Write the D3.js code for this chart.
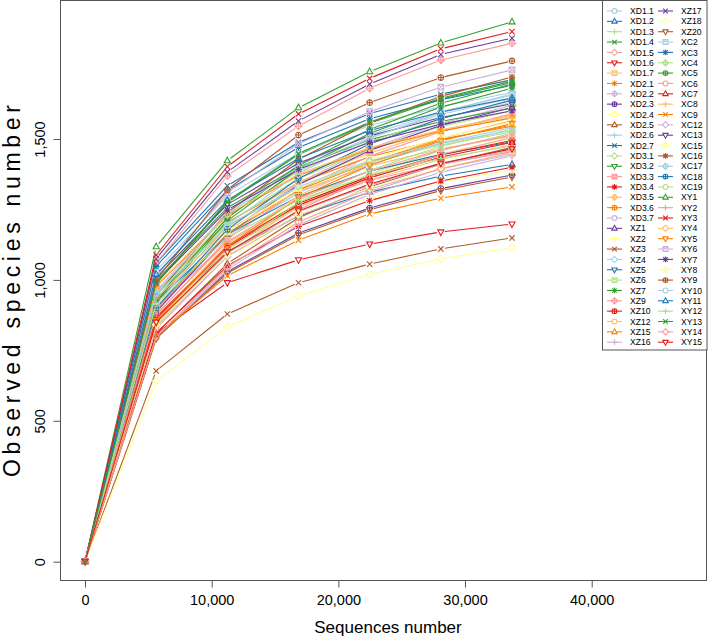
<!DOCTYPE html>
<html><head><meta charset="utf-8">
<script src="https://cdn.jsdelivr.net/npm/d3@7"></script>
<style>
body{margin:0;background:#fff}
svg{display:block}
text{font-family:"Liberation Sans", Arial, Helvetica, sans-serif;fill:#000}
</style>
</head><body>
<svg id="c" width="709" height="636"></svg>
<script>
// ---------------- data ----------------
const depths = [1, 5618, 11236, 16854, 22472, 28090, 33708];
const originSpecies = 1;

const xdNames = ["XD1.1","XD1.2","XD1.3","XD1.4","XD1.5","XD1.6","XD1.7",
                 "XD2.1","XD2.2","XD2.3","XD2.4","XD2.5","XD2.6","XD2.7",
                 "XD3.1","XD3.2","XD3.3","XD3.4","XD3.5","XD3.6","XD3.7"];
const xdValues = [
  [893,1155,1309,1409,1486,1540],[874,1100,1227,1311,1368,1410],[836,1094,1262,1376,1459,1520],
  [986,1275,1445,1556,1641,1700],[902,1135,1266,1353,1411,1455],[810,990,1071,1127,1170,1198],
  [858,1110,1258,1354,1428,1480],[958,1205,1344,1437,1499,1545],[891,1166,1345,1466,1555,1620],
  [796,1029,1166,1255,1324,1372],[862,1084,1209,1293,1348,1390],[809,1058,1220,1330,1411,1470],
  [960,1241,1407,1514,1597,1655],[1060,1334,1488,1590,1659,1710],[928,1200,1360,1464,1544,1600],
  [998,1256,1401,1497,1562,1610],[875,1145,1320,1439,1526,1590],[812,1050,1190,1281,1351,1400],
  [919,1189,1347,1450,1530,1585],[977,1229,1370,1465,1528,1575],[847,1095,1241,1336,1409,1460]
];
const xzNames = ["XZ1","XZ2","XZ3","XZ4","XZ5","XZ6","XZ7","XZ9","XZ10","XZ12","XZ15","XZ16","XZ17","XZ18","XZ20"];
const xzValues = [
  [887,1161,1338,1459,1548,1612],[870,1125,1275,1373,1448,1500],[677,879,990,1056,1110,1149],
  [1032,1299,1449,1548,1615,1665],[924,1162,1296,1386,1445,1490],[945,1223,1386,1491,1573,1630],
  [924,1210,1394,1520,1613,1680],[1060,1369,1546,1680,1780,1840],[867,1121,1271,1368,1443,1495],
  [861,1127,1299,1416,1502,1565],[899,1163,1318,1418,1496,1550],[792,1037,1195,1303,1382,1440],
  [1075,1383,1564,1695,1800,1858],[641,833,943,1020,1075,1114],[792,1024,1160,1249,1317,1365]
];
const xcNames = ["XC2","XC3","XC4","XC5","XC6","XC7","XC8","XC9","XC12","XC13","XC15","XC16","XC17","XC18","XC19"];
const xcValues = [
  [913,1195,1378,1502,1594,1660],[1048,1318,1470,1572,1639,1690],[946,1190,1327,1418,1479,1525],
  [932,1220,1407,1534,1627,1695],[828,1084,1249,1362,1445,1505],[863,1116,1265,1362,1436,1488],
  [936,1178,1314,1404,1465,1510],[800,1015,1141,1234,1290,1330],[838,1084,1228,1322,1394,1445],
  [1008,1268,1414,1511,1576,1625],[905,1170,1326,1427,1505,1560],[946,1238,1428,1557,1651,1720],
  [954,1234,1398,1505,1587,1645],[901,1179,1360,1482,1572,1638],[844,1105,1274,1389,1474,1535]
];
const xyNames = ["XY1","XY2","XY3","XY4","XY5","XY6","XY7","XY8","XY9","XY10","XY11","XY12","XY13","XY14","XY15"];
const xyValues = [
  [1118,1423,1611,1739,1841,1916],[879,1136,1288,1386,1462,1515],[1088,1402,1589,1715,1820,1881],
  [980,1232,1375,1469,1533,1580],[855,1120,1291,1407,1493,1555],[1012,1309,1483,1597,1684,1745],
  [992,1248,1392,1488,1552,1600],[841,1088,1233,1327,1399,1450],[1000,1320,1514,1629,1718,1777],
  [949,1193,1331,1423,1484,1530],[1020,1283,1431,1530,1596,1645],[915,1151,1283,1372,1431,1475],
  [989,1279,1449,1560,1645,1705],[799,1045,1205,1314,1394,1452],[850,1099,1245,1340,1414,1465]
];
const xTicks = [0, 10000, 20000, 30000, 40000];
const yTicks = [0, 500, 1000, 1500];
const xTitle = "Sequences number";
const yTitle = "Observed  species number";

// ---------------- build ----------------
const names = [...xdNames, ...xzNames, ...xcNames, ...xyNames];
const rows = [...xdValues, ...xzValues, ...xcValues, ...xyValues];
const series = names.map((n, i) => ({
  name: n,
  color: d3.schemePaired[i % 12],
  shape: i % 10,
  pts: [originSpecies, ...rows[i]].map((v, j) => ({x: depths[j], y: v}))
}));

const svg = d3.select("#c");
const box = {left: 60.5, right: 706.5, top: 0.5, bottom: 580.5};
const x = d3.scaleLinear().domain([0, 40000]).range([85, 591.7]);
const y = d3.scaleLinear().domain([0, 1500]).range([561.7, 139]);

function symPath(k, c) {
  const circ = `M${-c},0a${c},${c} 0 1,0 ${2*c},0a${c},${c} 0 1,0 ${-2*c},0`;
  const plus = (r) => `M${-r},0H${r}M0,${-r}V${r}`;
  const cross = (r) => `M${-r},${-r}L${r},${r}M${-r},${r}L${r},${-r}`;
  const dia = `M0,${-c*1.3}L${c*1.3},0L0,${c*1.3}L${-c*1.3},0Z`;
  switch (k) {
    case 0: return circ;
    case 1: return `M0,${-c*1.25}L${c*1.1},${c*0.75}L${-c*1.1},${c*0.75}Z`;
    case 2: return plus(c*1.25);
    case 3: return cross(c*0.95);
    case 4: return dia;
    case 5: return `M0,${c*1.25}L${c*1.1},${-c*0.75}L${-c*1.1},${-c*0.75}Z`;
    case 6: return `M${-c},${-c}H${c}V${c}H${-c}Z` + cross(c);
    case 7: return plus(c*1.2) + cross(c*0.9);
    case 8: return dia + plus(c*1.3);
    case 9: return circ + plus(c);
  }
}

svg.append("clipPath").attr("id", "clip").append("rect")
  .attr("x", box.left).attr("y", box.top)
  .attr("width", box.right - box.left).attr("height", box.bottom - box.top);

const plot = svg.append("g").attr("clip-path", "url(#clip)");
const gap = 4;
series.forEach(s => {
  const g = plot.append("g");
  const px = s.pts.map(p => [x(p.x), y(p.y)]);
  for (let j = 0; j < px.length - 1; j++) {
    const [x0, y0] = px[j], [x1, y1] = px[j+1];
    const dx = x1 - x0, dy = y1 - y0, L = Math.hypot(dx, dy);
    if (L <= 2 * gap) continue;
    const ux = dx / L, uy = dy / L;
    g.append("line")
      .attr("x1", x0 + ux*gap).attr("y1", y0 + uy*gap)
      .attr("x2", x1 - ux*gap).attr("y2", y1 - uy*gap)
      .attr("stroke", s.color).attr("stroke-width", 1.1);
  }
  g.selectAll("path").data(s.pts).join("path")
    .attr("transform", p => `translate(${x(p.x)},${y(p.y)})`)
    .attr("d", symPath(s.shape, 2.8))
    .attr("fill", "none").attr("stroke", s.color).attr("stroke-width", 1.1);
});

// box
svg.append("rect").attr("x", box.left).attr("y", box.top)
  .attr("width", box.right - box.left).attr("height", box.bottom - box.top)
  .attr("fill", "none").attr("stroke", "#555").attr("stroke-width", 1);

// axes
const fmt = d3.format(",");
const xa = svg.append("g").attr("transform", `translate(0,${box.bottom})`)
  .call(d3.axisBottom(x).tickValues(xTicks).tickFormat(fmt).tickSize(7).tickSizeOuter(0));
xa.select(".domain").remove();
xa.selectAll(".tick line").attr("stroke", "#555");
xa.selectAll(".tick text").attr("y", 24.5).attr("dy", 0)
  .style("font-size", "14.5px").attr("fill", "#000");

const ya = svg.append("g").attr("transform", `translate(${box.left},0)`)
  .call(d3.axisLeft(y).tickValues(yTicks).tickFormat(fmt).tickSize(7).tickSizeOuter(0));
ya.select(".domain").remove();
ya.selectAll(".tick line").attr("stroke", "#555");
ya.selectAll(".tick text").attr("x", 0).attr("dy", 0)
  .attr("transform", "translate(-15.5,0) rotate(-90)")
  .attr("text-anchor", "middle")
  .style("font-size", "14.5px").attr("fill", "#000");

svg.append("text").attr("x", 388).attr("y", 632.5).attr("text-anchor", "middle")
  .style("font-size", "17px").text(xTitle);
svg.append("text").attr("transform", `translate(20,291) rotate(-90)`)
  .attr("text-anchor", "middle").style("font-size", "23px")
  .attr("textLength", 372).attr("lengthAdjust", "spacing").text(yTitle);

// legend
const leg = svg.append("g");
leg.append("rect").attr("x", 602.5).attr("y", 0.5).attr("width", 104.5).attr("height", 349.5)
  .attr("fill", "#fff").attr("stroke", "#555");
const perCol = 33;
series.forEach((s, i) => {
  const col = Math.floor(i / perCol), row = i % perCol;
  const cx = col === 0 ? 614.5 : 665.5;
  const cy = 11 + row * 10.35;
  const g = leg.append("g");
  g.append("line").attr("x1", cx - 7.5).attr("x2", cx + 7.5).attr("y1", cy).attr("y2", cy)
    .attr("stroke", s.color).attr("stroke-width", 1.1);
  g.append("path").attr("transform", `translate(${cx},${cy})`).attr("d", symPath(s.shape, 2.4))
    .attr("fill", "#fff").attr("stroke", s.color).attr("stroke-width", 1.1);
  g.append("text").attr("x", cx + 15.5).attr("y", cy + 3.1)
    .style("font-size", "8.6px").text(s.name);
});
</script>
</body></html>
